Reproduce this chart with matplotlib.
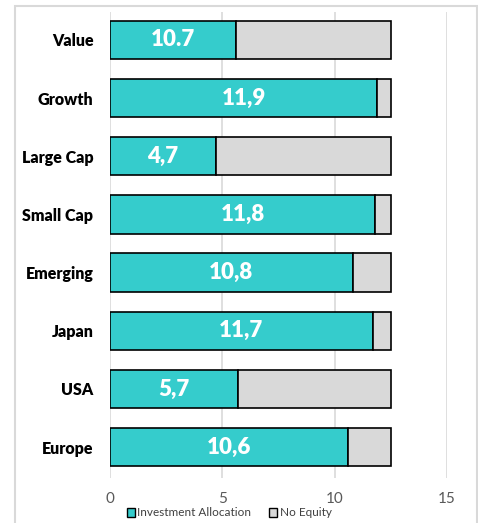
import matplotlib.pyplot as plt
from matplotlib.patches import Rectangle, Patch

plt.rcParams['font.family'] = ['Lato', 'DejaVu Sans']

# data, top to bottom as in the chart
regions = ['Value', 'Growth', 'Large Cap', 'Small Cap', 'Emerging', 'Japan', 'USA', 'Europe']
allocation = [5.6, 11.9, 4.7, 11.8, 10.8, 11.7, 5.7, 10.6]
bar_labels = ['10.7', '11,9', '4,7', '11,8', '10,8', '11,7', '5,7', '10,6']
total = 12.5
no_equity = [total - a for a in allocation]

teal = '#35CCCC'
grey = '#D9D9D9'

fig = plt.figure(figsize=(4.78, 5.23), dpi=100)
ax = fig.add_axes([110 / 478, 1 - 478 / 523, (447 - 110) / 478, (478 - 12) / 523])

# light outer frame
fig.patches.append(Rectangle((15 / 478, -0.05), (477 - 15) / 478, 1 - 6 / 523 + 0.05,
                             transform=fig.transFigure, fill=False,
                             edgecolor='#D9D9D9', linewidth=1.5, zorder=0))

y = range(len(regions))
ax.barh(y, allocation, height=0.66, color=teal, edgecolor='black', linewidth=1.2,
        label='Investment Allocation', zorder=3)
ax.barh(y, no_equity, left=allocation, height=0.66, color=grey, edgecolor='black',
        linewidth=1.2, label='No Equity', zorder=3)

for i, txt in enumerate(bar_labels):
    ax.text(allocation[i] / 2, i, txt, ha='center', va='center', color='white',
            fontsize=16, fontweight='heavy', zorder=4)

ax.set_xlim(0, 15)
ax.set_ylim(7.53, -0.48)
ax.set_xticks([0, 5, 10, 15])
ax.set_yticks(list(y))
ax.set_yticklabels(regions, fontsize=11.5, fontweight='heavy')
ax.tick_params(axis='y', length=0, pad=12)
ax.tick_params(axis='x', length=0, labelsize=11, labelcolor='#595959', pad=10)
ax.grid(axis='x', color='#D9D9D9', linewidth=1.2, zorder=0)
for s in ax.spines.values():
    s.set_visible(False)

handles = [Patch(facecolor=teal, edgecolor='black'), Patch(facecolor=grey, edgecolor='black')]
fig.legend(handles, ['Investment Allocation', 'No Equity'], loc='center',
           bbox_to_anchor=(229 / 478, 1 - 513 / 523), ncol=2, frameon=False,
           fontsize=8.5, handlelength=0.7, handleheight=0.7, handletextpad=0.2,
           columnspacing=1.5, labelcolor='#404040')

fig.savefig('out.png', dpi=100)
